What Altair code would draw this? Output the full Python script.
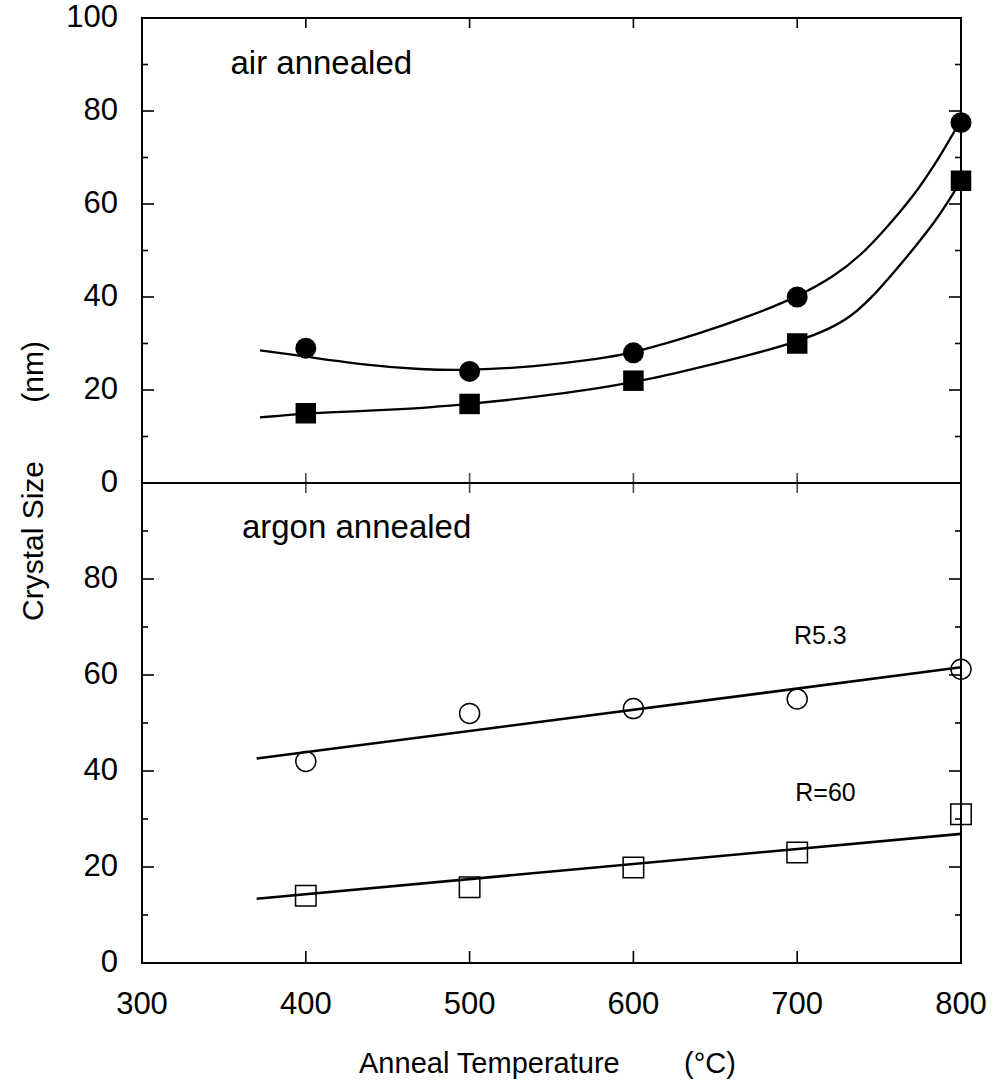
import altair as alt
import pandas as pd

FONT = "Liberation Sans"
W = 819
H = 945          # whole plot area: bottom panel 480 px + top panel 465 px
H_MID = 465      # pixel row of the shared middle line

# ---- data ----
temps = [400, 500, 600, 700, 800]
air_circle = [29.0, 24.0, 28.0, 40.0, 77.5]
air_square = [15.0, 17.0, 22.0, 30.0, 65.0]
argon_circle = [42.0, 52.0, 53.0, 55.0, 61.2]
argon_square = [14.0, 15.8, 19.9, 23.0, 31.0]

air_circle_fit_t = [372, 400, 438, 470, 500, 539, 580, 600, 641, 672, 700, 723, 739, 753, 763, 774, 784, 792, 800]
air_circle_fit_v = [28.5, 27.2, 25.3, 24.4, 24.2, 25.0, 26.7, 28.0, 32.2, 36.0, 40.0, 44.5, 49.0, 54.3, 58.4, 63.2, 68.5, 73.2, 78.0]
air_square_fit_t = [372, 400, 438, 478, 500, 539, 580, 600, 621, 641, 672, 700, 719, 733, 747, 767, 776, 784, 792, 800]
air_square_fit_v = [14.1, 15.0, 15.5, 16.3, 17.0, 18.4, 20.4, 21.7, 23.2, 24.9, 27.6, 30.4, 33.0, 35.8, 40.3, 48.6, 52.6, 56.2, 60.4, 65.0]
argon_circle_fit_t = [370, 800]
argon_circle_fit_v = [42.6, 61.6]
argon_square_fit_t = [370, 800]
argon_square_fit_v = [13.4, 26.9]

x_tick_labels = [300, 400, 500, 600, 700, 800]
x_inner_ticks = [400, 500, 600, 700]
top_y_labels = [0, 20, 40, 60, 80, 100]
bot_y_labels = [0, 20, 40, 60, 80]
y_major = [20, 40, 60, 80]
y_minor = [10, 30, 50, 70, 90]

air_text = {"t": [354], "v": [87.9], "txt": ["air annealed"]}
argon_text = {"t": [361], "v": [88.5], "txt": ["argon annealed"]}
r_text = {"t": [698, 698.8], "v": [66.5, 33.8], "txt": ["R5.3", "R=60"]}

ytitle = "Crystal Size" + "\u00a0" * 7 + "(nm)"
xtitle = "Anneal Temperature" + "\u00a0" * 8 + "(°C)"

# the two panels share one piecewise y scale: argon panel 0-100, air panel 100-200
OFFSET = 100
xs = alt.Scale(domain=[300, 800], nice=False, zero=False)
ys = alt.Scale(domain=[0, 100, 200], range=[H, H_MID, 0], nice=False, zero=False)


def X():
    return alt.X("t:Q", scale=xs, axis=None)


def Y():
    return alt.Y("y:Q", scale=ys, axis=None)


def frame(d, top_panel):
    base = alt.Chart(pd.DataFrame(d))
    if top_panel:
        return base.transform_calculate(y=f"datum.v + {OFFSET}")
    return base.transform_calculate(y="datum.v")


def pts(t, v, top_panel, shape, filled, size):
    kw = dict(shape=shape, filled=filled, size=size, color="black",
              strokeWidth=1.5, opacity=1)
    return frame({"t": t, "v": v}, top_panel).mark_point(**kw).encode(x=X(), y=Y())


def line(t, v, top_panel, width):
    return frame({"t": t, "v": v}, top_panel).mark_line(
        color="black", strokeWidth=width, interpolate="basis"
    ).encode(x=X(), y=Y())


def text(d, top_panel, size):
    return frame(d, top_panel).mark_text(
        font=FONT, fontSize=size, align="left", baseline="alphabetic", color="black"
    ).encode(x=X(), y=Y(), text="txt:N")


def yticks(vals, length):
    out = []
    for top_panel in (False, True):
        for x0, x1 in ((0, length), (W, W - length)):
            out.append(frame({"v": vals}, top_panel).mark_rule(
                color="black", strokeWidth=1.6).encode(
                y=Y(), x=alt.value(x0), x2=alt.value(x1)))
    return out


def ylabels(vals, top_panel):
    d = {"v": vals, "txt": [str(v) for v in vals]}
    return frame(d, top_panel).mark_text(
        font=FONT, fontSize=31, align="right", baseline="middle", color="black"
    ).encode(y=Y(), x=alt.value(-24), text="txt:N")


tick_df = pd.DataFrame({"t": x_inner_ticks})
xt_top = alt.Chart(tick_df).mark_rule(color="black", strokeWidth=1.6).encode(
    x=X(), y=alt.value(0), y2=alt.value(10))
xt_bot = alt.Chart(tick_df).mark_rule(color="black", strokeWidth=1.6).encode(
    x=X(), y=alt.value(H), y2=alt.value(H - 12))
xt_mid = frame({"t": x_inner_ticks, "v": [0] * len(x_inner_ticks)}, True).mark_tick(
    color="black", orient="vertical", size=20, thickness=1.6
).encode(x=X(), y=Y())

mid_line = frame({"v": [0]}, True).mark_rule(color="black", strokeWidth=2).encode(
    y=Y(), x=alt.value(0), x2=alt.value(W))

xlab = alt.Chart(pd.DataFrame({"t": x_tick_labels,
                               "txt": [str(v) for v in x_tick_labels]})).mark_text(
    font=FONT, fontSize=31, align="center", baseline="top", color="black"
).encode(x=X(), y=alt.value(H + 27), text="txt:N")

xtitle_mark = alt.Chart(pd.DataFrame({"txt": [xtitle]})).mark_text(
    font=FONT, fontSize=29, align="center", baseline="alphabetic", color="black"
).encode(x=alt.value(W / 2 - 4), y=alt.value(H + 110), text="txt:N")

ytitle_mark = alt.Chart(pd.DataFrame({"txt": [ytitle]})).mark_text(
    font=FONT, fontSize=30, align="center", baseline="alphabetic", color="black",
    angle=270,
).encode(x=alt.value(-99), y=alt.value(463), text="txt:N")

chart = alt.layer(
    *yticks(y_major, 12), *yticks(y_minor, 6),
    xt_top, xt_bot, xt_mid, mid_line,
    line(air_circle_fit_t, air_circle_fit_v, True, 2.3),
    line(air_square_fit_t, air_square_fit_v, True, 2.3),
    line(argon_circle_fit_t, argon_circle_fit_v, False, 2.6),
    line(argon_square_fit_t, argon_square_fit_v, False, 2.6),
    pts(temps, argon_circle, False, "circle", False, 400),
    pts(temps, air_circle, True, "circle", True, 440),
    pts(temps, air_square, True, "square", True, 420),
    pts(temps, argon_square, False, "square", False, 420),
    text(air_text, True, 33),
    text(argon_text, False, 33),
    text(r_text, False, 25),
    ylabels(bot_y_labels, False),
    ylabels(top_y_labels, True),
    xlab, xtitle_mark, ytitle_mark,
).properties(
    width=W, height=H,
    padding={"left": 19, "top": 2, "right": 5, "bottom": 5},
    background="white",
).configure_view(stroke="black", strokeWidth=2)

chart.save("out.html", embed_options={"renderer": "svg", "actions": False})
